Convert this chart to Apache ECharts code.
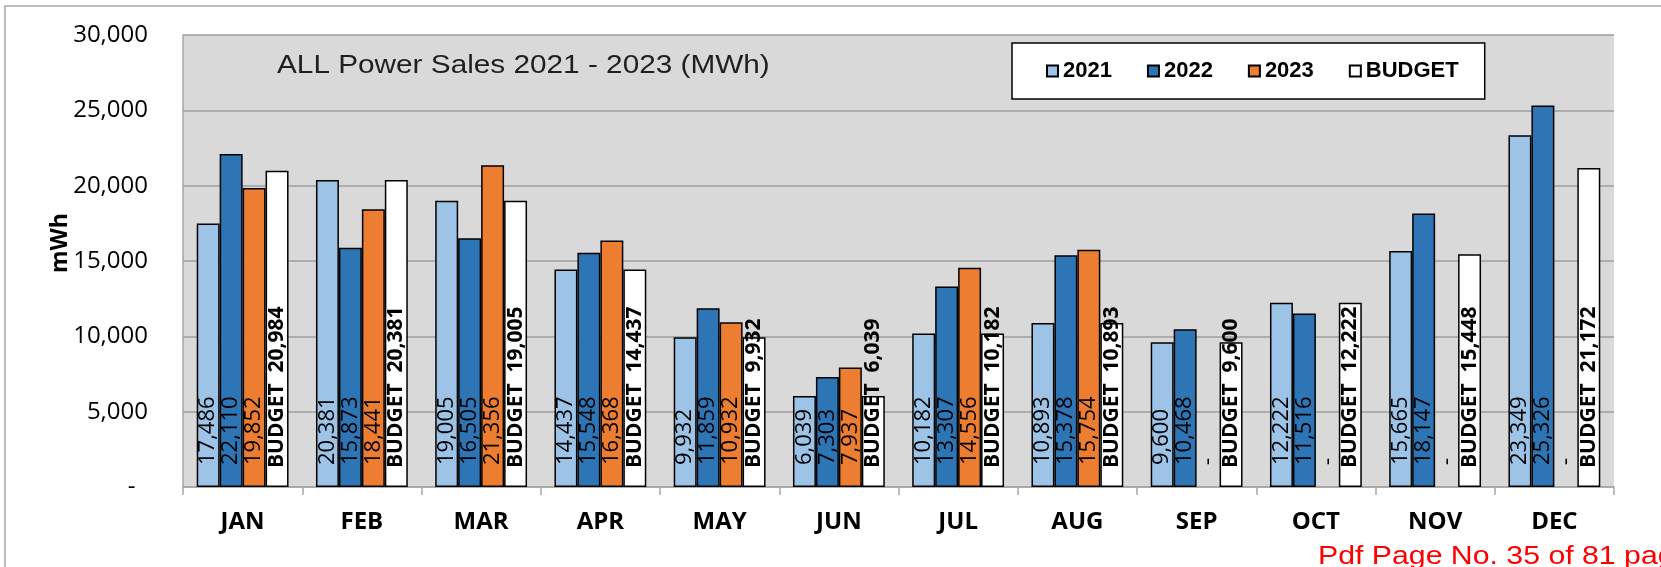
<!DOCTYPE html>
<html>
<head>
<meta charset="utf-8">
<script src="https://cdn.jsdelivr.net/npm/echarts@6/dist/echarts.min.js"></script>
<style>
  html, body { margin: 0; padding: 0; background: #ffffff; }
  #chart { width: 1661px; height: 567px; }
</style>
</head>
<body>
<div id="chart"></div>
<script>
// Monthly power sales (MWh)
const months = ['JAN', 'FEB', 'MAR', 'APR', 'MAY', 'JUN', 'JUL', 'AUG', 'SEP', 'OCT', 'NOV', 'DEC'];
const sales2021 = [17486, 20381, 19005, 14437, 9932, 6039, 10182, 10893, 9600, 12222, 15665, 23349];
const sales2022 = [22110, 15873, 16505, 15548, 11859, 7303, 13307, 15378, 10468, 11516, 18147, 25326];
const sales2023 = [19852, 18441, 21356, 16368, 10932, 7937, 14556, 15754, 0, 0, 0, 0];
const budget = [20984, 20381, 19005, 14437, 9932, 6039, 10182, 10893, 9600, 12222, 15448, 21172];
const yTicks = [0, 5000, 10000, 15000, 20000, 25000, 30000];

const fmt = v => (v === 0 ? '-' : v.toLocaleString('en-US'));

const numberLabel = {
  show: true,
  position: 'insideBottom',
  rotate: 90,
  align: 'left',
  verticalAlign: 'middle',
  distance: 22,
  fontFamily: 'Open Sans',
  fontSize: 22,
  color: '#000',
  formatter: p => fmt(p.value)
};

function barSeries(name, values, color, label) {
  return {
    name: name,
    type: 'bar',
    barGap: '0%',
    barCategoryGap: '23%',
    itemStyle: { color: color, borderColor: '#000', borderWidth: 1.5 },
    label: label,
    data: values.map(v => (v === 0 ? { value: 0, itemStyle: { borderWidth: 0 } } : v))
  };
}

const chart = echarts.init(document.getElementById('chart'), null, { renderer: 'canvas' });

chart.setOption({
  animation: false,
  backgroundColor: '#ffffff',
  grid: {
    left: 183, right: 47, top: 35, bottom: 80,
    show: true, backgroundColor: '#d9d9d9', borderWidth: 0
  },
  legend: {
    left: 1012, top: 43,
    padding: [17, 26, 17, 34],
    backgroundColor: '#ffffff',
    borderColor: '#000',
    borderWidth: 1.5,
    itemWidth: 11, itemHeight: 11, itemGap: 35,
    icon: 'rect',
    textStyle: { fontFamily: 'Liberation Sans', fontWeight: 'bold', fontSize: 22, color: '#000' },
    data: ['2021', '2022', '2023', 'BUDGET']
  },
  xAxis: {
    type: 'category',
    data: months,
    axisLine: { lineStyle: { color: '#a6a6a6', width: 1.5 } },
    axisTick: { show: true, length: 8, lineStyle: { color: '#a6a6a6', width: 1.5 } },
    axisLabel: { margin: 23, fontFamily: 'Open Sans', fontWeight: 'bold', fontSize: 24, color: '#000' }
  },
  yAxis: {
    type: 'value',
    min: yTicks[0],
    max: yTicks[yTicks.length - 1],
    interval: yTicks[1] - yTicks[0],
    axisLine: { show: true, lineStyle: { color: '#a6a6a6', width: 1.5 } },
    axisTick: { show: false },
    splitLine: { lineStyle: { color: '#9e9e9e', width: 1.5 } },
    axisLabel: {
      margin: 35,
      fontFamily: 'Open Sans', fontSize: 24, color: '#000',
      formatter: v => (v === 0 ? '-  ' : v.toLocaleString('en-US'))
    }
  },
  graphic: [
    {
      type: 'rect', silent: true, z: -10,
      shape: { x: 5, y: 6, width: 2000, height: 1000 },
      style: { fill: 'none', stroke: '#a6a6a6', lineWidth: 1.5 }
    },
    {
      type: 'text', x: 277, y: 54, scaleX: 1.19,
      style: { text: 'ALL Power Sales 2021 - 2023 (MWh)', font: '25px "Liberation Sans"', fill: '#1f1f1f', verticalAlign: 'top' }
    },
    {
      type: 'text', x: 60, y: 243, rotation: Math.PI / 2,
      style: { text: 'mWh', font: 'bold 23px "Open Sans"', fill: '#000', align: 'center', verticalAlign: 'middle' }
    },
    {
      type: 'text', x: 1318, y: 545, scaleX: 1.21,
      style: { text: 'Pdf Page No. 35 of 81 pages', font: '25px "Liberation Sans"', fill: '#ff0000', verticalAlign: 'top' }
    }
  ],
  series: [
    barSeries('2021', sales2021, '#9dc3e6', numberLabel),
    barSeries('2022', sales2022, '#2e75b6', numberLabel),
    barSeries('2023', sales2023, '#ed7d31', numberLabel),
    barSeries('BUDGET', budget, '#ffffff', Object.assign({}, numberLabel, {
      distance: 19,
      fontWeight: 'bold',
      fontSize: 21,
      formatter: p => 'BUDGET  ' + fmt(p.value)
    }))
  ]
});
</script>
</body>
</html>
